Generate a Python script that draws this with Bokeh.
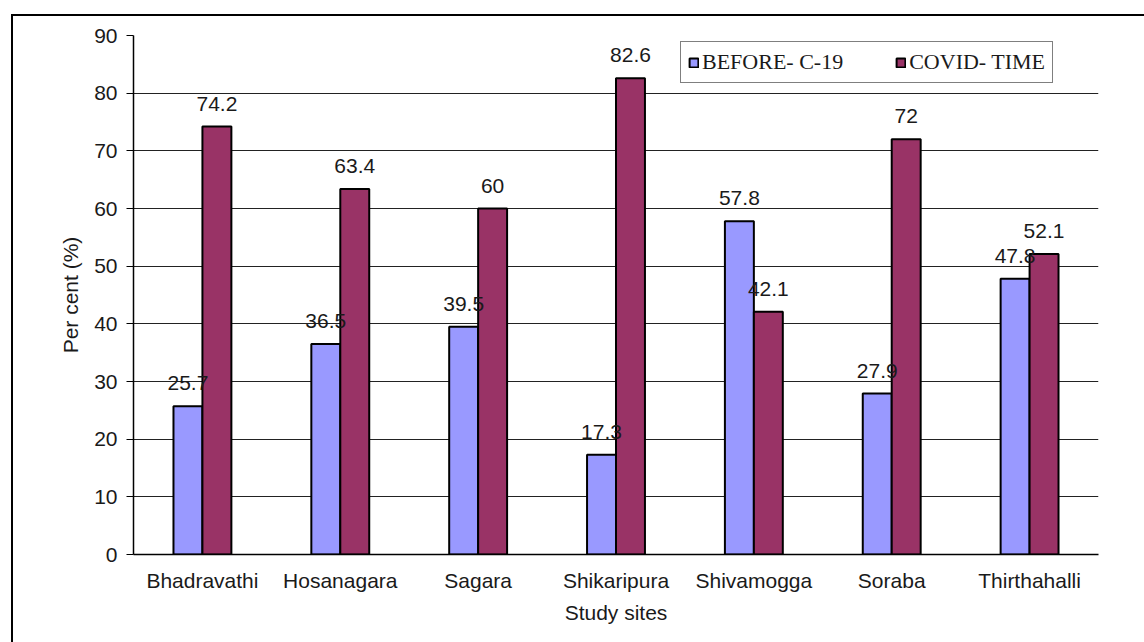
from bokeh.plotting import figure
from bokeh.models import ColumnDataSource, LabelSet, Legend, LegendItem, FixedTicker
from bokeh.transform import dodge
from bokeh.core.properties import value
from bokeh.embed import file_html
from bokeh.resources import INLINE

sites = ["Bhadravathi", "Hosanagara", "Sagara", "Shikaripura", "Shivamogga", "Soraba", "Thirthahalli"]
before_c19 = [25.7, 36.5, 39.5, 17.3, 57.8, 27.9, 47.8]
covid_time = [74.2, 63.4, 60, 82.6, 42.1, 72, 52.1]
y_ticks = [0, 10, 20, 30, 40, 50, 60, 70, 80, 90]

src = ColumnDataSource(dict(
    site=sites,
    before=before_c19,
    covid=covid_time,
    before_lbl=[f"{v:g}" for v in before_c19],
    covid_lbl=[f"{v:g}" for v in covid_time],
))

FONT = "Liberation Sans"
TXT = "#1a1a1a"
FS = "21px"

p = figure(x_range=sites, y_range=(0, 90), width=1133, height=628,
           output_backend="svg", toolbar_location=None,
           min_border_left=120, min_border_right=48, min_border_top=19, min_border_bottom=90)
p.margin = (14, 0, 0, 11)
p.styles = {"border-top": "2px solid black", "border-left": "2px solid black", "box-sizing": "border-box"}
p.outline_line_color = None
p.background_fill_color = "white"
p.border_fill_color = "white"

w = 0.21
r1 = p.vbar(x=dodge("site", -w / 2, range=p.x_range), top="before", width=w, source=src,
            fill_color="#9999FF", line_color="black", line_width=2)
r2 = p.vbar(x=dodge("site", w / 2, range=p.x_range), top="covid", width=w, source=src,
            fill_color="#993366", line_color="black", line_width=2)

for col, off in (("before", -w / 2), ("covid", w / 2)):
    p.add_layout(LabelSet(x=dodge("site", off, range=p.x_range), y=col, text=col + "_lbl", source=src,
                          text_align="center", text_baseline="bottom", y_offset=16,
                          text_font=value(FONT), text_font_size=value(FS), text_color=TXT))

# axes
p.yaxis.ticker = FixedTicker(ticks=y_ticks)
p.yaxis.axis_label = "Per cent (%)"
p.xaxis.axis_label = "Study sites"
for ax in (p.xaxis[0], p.yaxis[0]):
    ax.axis_label_text_font = FONT
    ax.axis_label_text_font_size = FS
    ax.axis_label_text_font_style = "normal"
    ax.axis_label_text_color = TXT
    ax.major_label_text_font = FONT
    ax.major_label_text_font_size = FS
    ax.major_label_text_color = TXT
    ax.axis_line_color = "black"
    ax.axis_line_width = 1.5
    ax.minor_tick_line_color = None
p.yaxis.major_tick_in = 0
p.yaxis.major_tick_out = 7
p.yaxis.major_tick_line_color = "black"
p.yaxis.major_label_standoff = 9
p.yaxis.axis_label_standoff = 9
p.xaxis.major_tick_line_color = None
p.xaxis.major_label_standoff = 8
p.xaxis.axis_label_standoff = 6

p.xgrid.grid_line_color = None
p.ygrid.grid_line_color = "#222222"
p.ygrid.grid_line_width = 1.2
p.ygrid.ticker = FixedTicker(ticks=y_ticks)

legend = Legend(items=[LegendItem(label="BEFORE- C-19", renderers=[r1]),
                       LegendItem(label="COVID- TIME", renderers=[r2])],
                orientation="horizontal", location=(547, 471), margin=0,
                padding=7, spacing=52, label_standoff=3,
                glyph_width=11, glyph_height=11,
                label_text_font="Liberation Serif", label_text_font_size="22px",
                label_text_color=TXT, label_height=20,
                border_line_color="black", border_line_width=1.5,
                background_fill_color="white", background_fill_alpha=1)
p.add_layout(legend)

open("out.html", "w").write(file_html(p, INLINE))
